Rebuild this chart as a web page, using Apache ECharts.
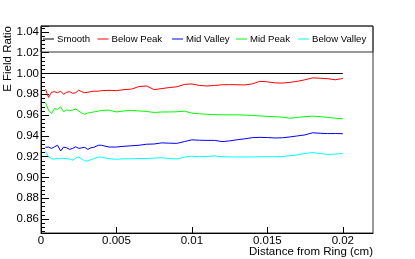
<!DOCTYPE html>
<html><head><meta charset="utf-8">
<script src="https://cdn.jsdelivr.net/npm/echarts@6/dist/echarts.min.js"></script>
<style>html,body{margin:0;padding:0;background:#fff}#c{width:415px;height:259px}</style>
</head><body><div id="c"></div>
<script>
const seriesNames = ['Smooth', 'Below Peak', 'Mid Valley', 'Mid Peak', 'Below Valley'];
const smoothX = [0, 0.02];
const smoothY = [1.0, 1.0];
const distance = [0.0003, 0.0005, 0.0007, 0.0009, 0.0011, 0.0013, 0.0015, 0.0017, 0.0019, 0.0021,
  0.0023, 0.0025, 0.0027, 0.0029, 0.0031, 0.0033, 0.0035, 0.0038, 0.004, 0.0045,
  0.005, 0.0055, 0.006, 0.0065, 0.007, 0.0075, 0.008, 0.0085, 0.009, 0.0095,
  0.01, 0.0105, 0.011, 0.0115, 0.012, 0.0125, 0.013, 0.0135, 0.014, 0.0145,
  0.015, 0.0155, 0.016, 0.0165, 0.017, 0.0175, 0.018, 0.0185, 0.019, 0.0195, 0.02];
const belowPeak = [0.985, 0.977, 0.982, 0.9825, 0.9815, 0.983, 0.980, 0.982, 0.9825, 0.981,
  0.9815, 0.984, 0.9825, 0.9815, 0.982, 0.9825, 0.983, 0.983, 0.9835, 0.9838,
  0.9835, 0.9845, 0.985, 0.9875, 0.988, 0.9845, 0.9855, 0.9865, 0.9872, 0.9895,
  0.990, 0.9885, 0.988, 0.9885, 0.9892, 0.9893, 0.9892, 0.989, 0.990, 0.9925,
  0.992, 0.991, 0.9908, 0.9915, 0.9925, 0.994, 0.9958, 0.9955, 0.995, 0.994, 0.9952];
const midValley = [0.929, 0.9293, 0.928, 0.9295, 0.931, 0.9255, 0.9293, 0.9285, 0.927, 0.928,
  0.9295, 0.928, 0.9285, 0.929, 0.927, 0.9285, 0.929, 0.931, 0.931, 0.9293,
  0.9293, 0.930, 0.9305, 0.931, 0.932, 0.9322, 0.9333, 0.933, 0.9328, 0.9345,
  0.9362, 0.9358, 0.9357, 0.9357, 0.9345, 0.9352, 0.9363, 0.9372, 0.9383, 0.9386,
  0.9384, 0.938, 0.9382, 0.939, 0.940, 0.941, 0.943, 0.9425, 0.9422, 0.9423, 0.9421];
const midPeak = [0.972, 0.9648, 0.9616, 0.9664, 0.9655, 0.968, 0.9633, 0.965, 0.9645, 0.9648,
  0.9658, 0.964, 0.962, 0.9607, 0.962, 0.9625, 0.963, 0.9638, 0.9645, 0.9648,
  0.963, 0.964, 0.9645, 0.964, 0.9635, 0.9625, 0.963, 0.963, 0.9632, 0.9638,
  0.962, 0.9612, 0.9608, 0.9605, 0.9603, 0.9602, 0.9603, 0.960, 0.9597, 0.9592,
  0.9588, 0.9585, 0.958, 0.957, 0.9578, 0.9585, 0.959, 0.9585, 0.9578, 0.957, 0.9565];
const belowValley = [0.925, 0.920, 0.918, 0.9178, 0.9185, 0.918, 0.9185, 0.918, 0.9178, 0.9166,
  0.9185, 0.9197, 0.918, 0.916, 0.9158, 0.917, 0.918, 0.9197, 0.9195, 0.9182,
  0.9175, 0.918, 0.918, 0.9182, 0.9183, 0.9186, 0.919, 0.9182, 0.9178, 0.9195,
  0.9205, 0.920, 0.9203, 0.9207, 0.920, 0.9198, 0.9197, 0.9197, 0.9197, 0.920,
  0.920, 0.920, 0.920, 0.921, 0.9218, 0.923, 0.924, 0.923, 0.9222, 0.9225, 0.923];
const xTickLabels = ['0', '0.005', '0.01', '0.015', '0.02'];

const colors = ['#000000', '#ff0000', '#0000ff', '#00ff00', '#00ffff'];
const valuesByName = [smoothY, belowPeak, midValley, midPeak, belowValley];
const zip = (xs, ys) => xs.map((x, i) => [x, ys[i]]);
const font = "'Liberation Sans', Arial, Helvetica, sans-serif";

const series = seriesNames.map((name, i) => ({
  name, type: 'line', showSymbol: false, symbol: 'none',
  data: i === 0 ? zip(smoothX, smoothY) : zip(distance, valuesByName[i]),
  lineStyle: { color: colors[i], width: 1 }, itemStyle: { color: colors[i] },
  z: 3
}));

const legendLeft = [43, 97.5, 172, 236, 298];
const legends = seriesNames.map((name, i) => ({
  data: [name], left: legendLeft[i], top: 33, orient: 'horizontal',
  icon: 'rect', itemWidth: 11, itemHeight: 1, itemGap: 0, padding: 0,
  textStyle: { fontFamily: font, fontSize: 9.6, color: '#000', padding: [0, 0, 0, -2], lineHeight: 12 },
  selectedMode: false
}));

const chart = echarts.init(document.getElementById('c'), null, { renderer: 'canvas' });
chart.setOption({
  animation: false,
  backgroundColor: '#fff',
  grid: { left: 41, right: 42, top: 26, bottom: 26, show: true, borderColor: '#333', borderWidth: 1, backgroundColor: 'transparent' },
  legend: legends,
  xAxis: {
    type: 'value', min: 0, max: 0.022, interval: 0.005,
    axisLine: { show: true, onZero: false, lineStyle: { color: '#000', width: 1 } },
    axisTick: { show: true, inside: true, length: 6, lineStyle: { color: '#000' } },
    splitLine: { show: false },
    axisLabel: { showMaxLabel: false, margin: 2, fontFamily: font, fontSize: 11.5, color: '#000',
      formatter: v => { const i = Math.round(v / 0.005); return xTickLabels[i] !== undefined ? xTickLabels[i] : ''; } }
  },
  yAxis: {
    type: 'value', min: 0.8466, max: 1.0457, splitNumber: 10,
    axisLine: { show: true, onZero: false, lineStyle: { color: '#000', width: 1 } },
    axisTick: { show: true, inside: true, length: 8, lineStyle: { color: '#000' } },
    minorTick: { show: true, splitNumber: 5, length: 4, lineStyle: { color: '#000' } },
    splitLine: { show: false },
    axisLabel: { showMinLabel: false, showMaxLabel: false, margin: 2, fontFamily: font, fontSize: 11.5, color: '#000',
      formatter: v => v.toFixed(2) }
  },
  graphic: [
    { type: 'rect', shape: { x: 41, y: 26, width: 332, height: 26 }, style: { fill: 'none', stroke: '#333', lineWidth: 1 }, z: 10, silent: true },
    { type: 'text', x: 8, y: 26, rotation: Math.PI / 2,
      style: { text: 'E Field Ratio', font: '11.5px ' + font, fill: '#000', textAlign: 'right', textVerticalAlign: 'middle' } },
    { type: 'text', x: 373, y: 251.5,
      style: { text: 'Distance from Ring (cm)', font: '11.5px ' + font, fill: '#000', textAlign: 'right', textVerticalAlign: 'middle' } }
  ],
  series
});
</script></body></html>
